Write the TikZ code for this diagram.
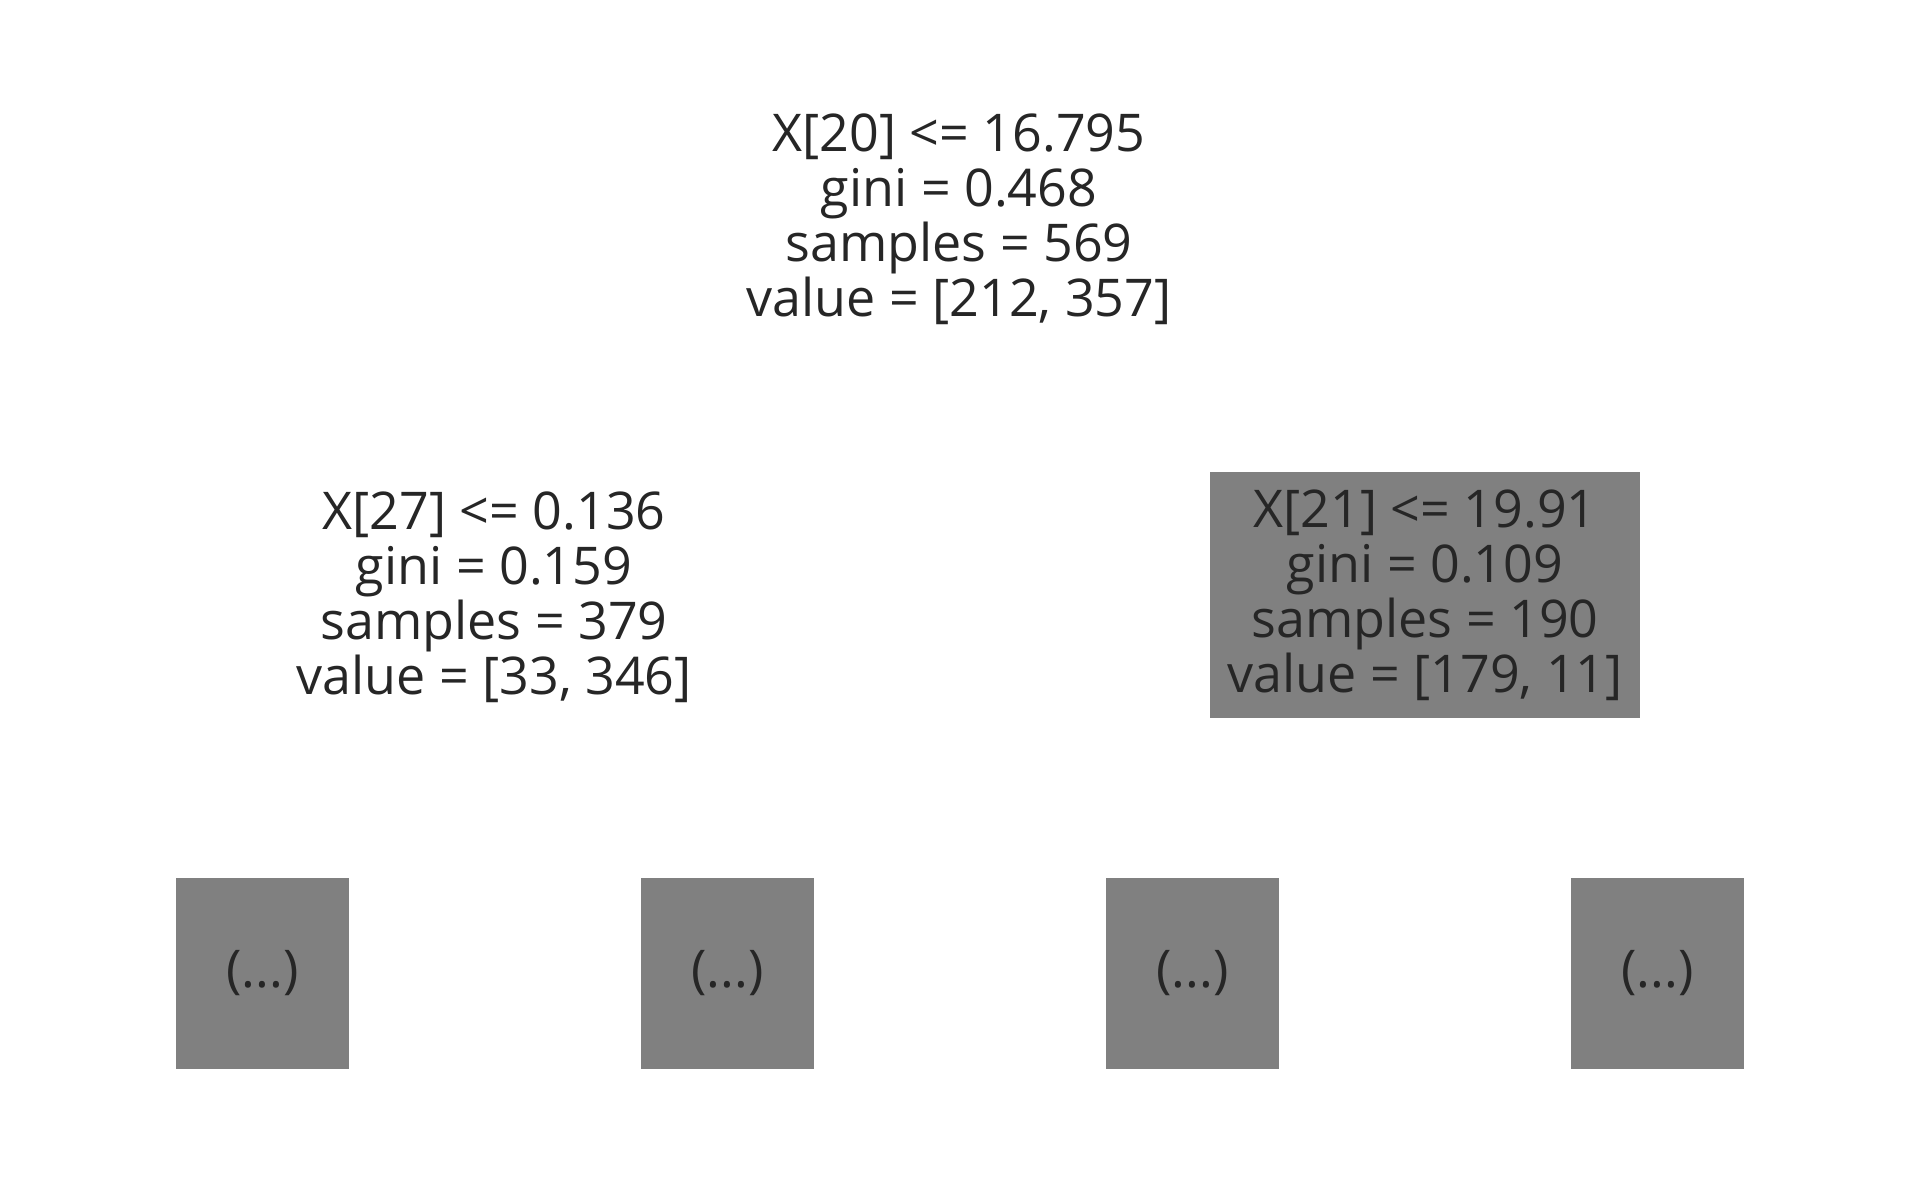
\documentclass[tikz,border=0pt]{standalone}
\usepackage{fontspec}
\setmainfont{Open Sans}
\definecolor{boxgray}{HTML}{808080}
\definecolor{txtcol}{HTML}{262626}
\tikzset{
  txt/.style={font=\fontsize{52}{55}\selectfont, text=txtcol, align=center, inner sep=0pt},
  splitbox/.style={txt, fill=boxgray, minimum width=430pt, minimum height=246pt},
  leafbox/.style={txt, fill=boxgray, minimum width=173pt, minimum height=191pt}
}
\begin{document}
\begin{tikzpicture}
\useasboundingbox[fill=white] (0,0) rectangle (1919pt,1192pt);
\node[txt] (root) at (959pt,973pt) {X[20] <= 16.795\\gini = 0.468\\samples = 569\\value = [212, 357]};
\node[txt] (left) at (494pt,595pt) {X[27] <= 0.136\\gini = 0.159\\samples = 379\\value = [33, 346]};
\node[splitbox] (right) at (1425pt,597pt) {X[21] <= 19.91\\gini = 0.109\\samples = 190\\value = [179, 11]};
\node[leafbox] (ll) at (262.5pt,218.5pt) {(...)};
\node[leafbox] (lr) at (727.5pt,218.5pt) {(...)};
\node[leafbox] (rl) at (1192.5pt,218.5pt) {(...)};
\node[leafbox] (rr) at (1657.5pt,218.5pt) {(...)};
\end{tikzpicture}
\end{document}
